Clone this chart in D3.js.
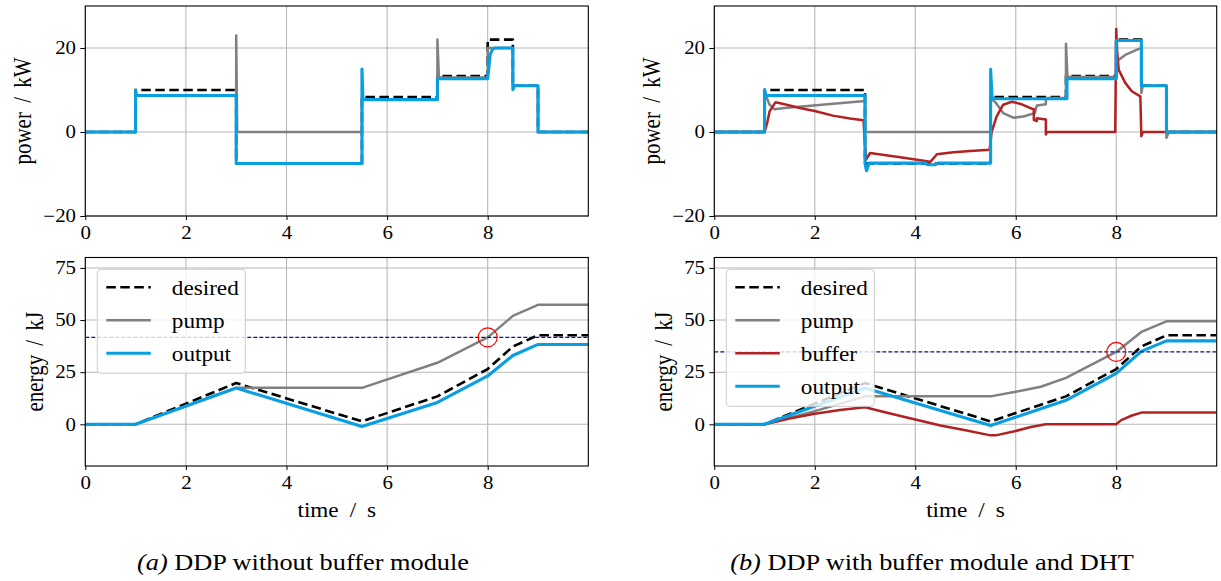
<!DOCTYPE html>
<html><head><meta charset="utf-8">
<script src="https://cdn.jsdelivr.net/npm/d3@7"></script>
<style>
body{margin:0;background:#fff}
svg{display:block}
text{font-family:"Liberation Serif","Times New Roman",serif;fill:#000}
</style>
</head><body>
<svg id="c" width="1221" height="581"></svg>
<script>
// ---------------- data ----------------
const timeTicks = [0, 2, 4, 6, 8];
const powerTicks = [-20, 0, 20];
const energyTicks = [0, 25, 50, 75];
const seriesNames = ["desired", "pump", "buffer", "output"];
const captionA = "DDP without buffer module";
const captionB = "DDP with buffer module and DHT";

// power [time s, kW]
const desiredPower = [[0,0],[1,0],[1,10],[3,10],[3,-7.5],[5.5,-7.5],[5.5,8.3],[7,8.3],[7,13.3],[8,13.3],[8,22],[8.5,22],[8.5,11],[9,11],[9,0],[10,0]];
const pumpPowerA = [[0,0],[1,0],[1,8.7],[3,8.7],[3,23],[3.02,0],[5.5,0],[5.5,7.8],[7,7.8],[7,22],[7.03,13],[8,13],[8,20],[8.5,20],[8.5,11],[9,11],[9,0],[10,0]];
const outputPowerA = [[0,0],[1,0],[1,10],[1.02,8.7],[3,8.7],[3,-7.5],[5.5,-7.5],[5.5,15],[5.52,7.7],[7,7.7],[7,12.7],[8,12.7],[8.02,15],[8.05,18.5],[8.1,19.8],[8.15,20],[8.5,20],[8.5,10.1],[8.53,11],[9,11],[9,0],[10,0]];
const pumpPowerB = [[0,0],[1,0],[1,9.5],[1.1,6.5],[1.2,5.4],[1.4,5.7],[3,7.4],[3,0],[5.5,0],[5.5,8],[5.6,7],[5.75,4.5],[5.95,3.4],[6.15,3.7],[6.38,4.5],[6.42,6.3],[6.6,6.6],[6.6,8.1],[7,8.1],[7,21],[7.03,13.1],[8,13.1],[8.03,17],[8.2,18.5],[8.45,19.8],[8.5,20],[8.5,9.3],[8.53,11],[9,11],[9,-1.4],[9.05,0],[10,0]];
const bufferPowerB = [[0,0],[1,0],[1.05,2],[1.1,4.9],[1.22,7.1],[1.4,6.6],[1.7,5.7],[2,5],[2.36,3.9],[2.7,3.2],[2.97,2.8],[3.02,-6.6],[3.1,-5],[3.7,-6],[4.3,-7.1],[4.38,-6],[4.43,-5.3],[4.76,-4.8],[5.1,-4.5],[5.48,-4.2],[5.52,0],[5.62,3.7],[5.75,6.5],[5.92,7.2],[6.12,6.6],[6.33,5.5],[6.36,5.5],[6.36,2.9],[6.42,2.6],[6.42,3.3],[6.6,3.0],[6.6,-0.6],[6.62,0],[7.98,0],[8,24.5],[8.02,19],[8.05,14.8],[8.18,11.7],[8.31,9.7],[8.48,8.5],[8.5,-1],[8.53,0],[10,0]];
const outputPowerB = [[0,0],[1,0],[1,10.1],[1.03,8.7],[3,8.7],[3,-7.4],[3.03,-9.2],[3.08,-7.4],[4.2,-7.4],[4.25,-7.8],[4.4,-7.8],[4.45,-7.4],[5.5,-7.4],[5.5,14.9],[5.53,7.9],[7.02,7.9],[7.02,12.7],[8,12.7],[8,21.8],[8.5,21.8],[8.5,11],[9,11],[9,0],[10,0]];

// energy [time s, kJ]
const desiredEnergy = [[0,0],[1,0],[3,19.8],[5.5,1.4],[7,13.4],[8,26.5],[8.5,37.3],[9,42.7],[10,42.7]];
const pumpEnergyA = [[0,0],[1,0],[3,17.5],[5.5,17.5],[7,29.5],[8,41.7],[8.5,52],[9,57.3],[10,57.3]];
const outputEnergyA = [[0,0],[1,0],[3,17.4],[5.5,-1.1],[7,10.5],[8,23.2],[8.5,33],[9,38.3],[10,38.3]];
const pumpEnergyB = [[0,0],[1,0],[1.5,3.2],[2,6.3],[2.5,9.8],[3,13.4],[5.5,13.4],[6,15.6],[6.5,18],[7,22.3],[8,34.7],[8.5,44.3],[9,49.4],[10,49.4]];
const bufferEnergyB = [[0,0],[1,0],[1.5,2.8],[2,5.1],[2.5,6.9],[3,8.2],[3.5,5.2],[4,2.3],[4.5,-0.6],[5,-2.9],[5.5,-5.3],[5.6,-5.3],[6,-3.2],[6.3,-1.3],[6.6,0],[8,0],[8.1,2],[8.3,4.1],[8.5,5.6],[10,5.6]];
const outputEnergyB = [[0,0],[1,0],[3,17.4],[5.5,-0.6],[7,11.5],[8,24.4],[8.5,35],[9,40],[10,40]];
const limitEnergyA = 41.7;   // dashed navy level
const limitEnergyB = 34.7;
const markTime = 8;

// ---------------- styles ----------------
const SX = 1.16; // horizontal text stretch of the reference
const C = {desired:"#000000", pump:"#808080", buffer:"#b22222", output:"#079fe2"};
const W = {desired:2.6, pump:2.5, buffer:2.5, output:3.1};
const DASH = "9.5,4.5";

const svg = d3.select("#c");
const defs = svg.append("defs");
const cols = [{x0:85.3, x1:588.3}, {x0:714.3, x1:1216.7}];
const rows = [{y0:6, y1:216}, {y0:257.5, y1:466}];
let clipN = 0;
const fmt = d => d < 0 ? "\u2212" + Math.abs(d) : String(d);

function txt(x, y, s, size, anchor, rot, dy) {
  const g = svg.append("g").attr("transform", `translate(${x},${y}) scale(${SX},1)` + (rot ? " rotate(-90)" : ""));
  const t = g.append("text").attr("font-size", size).attr("text-anchor", anchor || "start");
  if (dy) t.attr("dy", dy);
  if (s !== null) t.text(s);
  return t;
}

function panel(col, row, ydom, yticks, series, opts) {
  const x = d3.scaleLinear().domain([0, 10]).range([col.x0, col.x1]);
  const y = d3.scaleLinear().domain(ydom).range([row.y1, row.y0]);
  const id = "clip" + (clipN++);
  defs.append("clipPath").attr("id", id).append("rect")
    .attr("x", col.x0).attr("y", row.y0).attr("width", col.x1 - col.x0).attr("height", row.y1 - row.y0);
  const g = svg.append("g");
  // grid
  g.append("g").selectAll("line").data(timeTicks).join("line")
    .attr("x1", d => x(d)).attr("x2", d => x(d)).attr("y1", row.y0).attr("y2", row.y1)
    .attr("stroke", "#b8b8b8").attr("stroke-width", 1.1);
  g.append("g").selectAll("line").data(yticks).join("line")
    .attr("y1", d => y(d)).attr("y2", d => y(d)).attr("x1", col.x0).attr("x2", col.x1)
    .attr("stroke", "#b8b8b8").attr("stroke-width", 1.1);
  // series
  const line = d3.line().x(d => x(d[0])).y(d => y(d[1]));
  const lg = g.append("g").attr("clip-path", `url(#${id})`);
  series.forEach(s => {
    lg.append("path").attr("d", line(s.data)).attr("fill", "none")
      .attr("stroke", C[s.name]).attr("stroke-width", W[s.name])
      .attr("stroke-dasharray", s.name === "desired" ? DASH : null)
      .attr("stroke-linejoin", "round");
  });
  if (opts.limit !== undefined) {
    lg.append("line").attr("x1", col.x0).attr("x2", col.x1).attr("y1", y(opts.limit)).attr("y2", y(opts.limit))
      .attr("stroke", "#10108a").attr("stroke-width", 1.3).attr("stroke-dasharray", "4,2");
    lg.append("circle").attr("cx", x(markTime)).attr("cy", y(opts.limit)).attr("r", 9.5)
      .attr("fill", "none").attr("stroke", "#ff0000").attr("stroke-width", 1.2);
  }
  // axes
  const xa = g.append("g").attr("transform", `translate(0,${row.y1})`)
    .call(d3.axisBottom(x).tickValues(timeTicks).tickSize(4).tickPadding(6).tickFormat(d3.format("d")));
  const ya = g.append("g").attr("transform", `translate(${col.x0},0)`)
    .call(d3.axisLeft(y).tickValues(yticks).tickSize(5).tickPadding(3).tickFormat(fmt));
  [xa, ya].forEach(a => {
    a.attr("font-family", null).attr("font-size", null);
    a.select(".domain").remove();
    a.selectAll(".tick line").attr("stroke", "#000").attr("stroke-width", 1);
    a.selectAll(".tick text").attr("font-size", 18).attr("fill", "#000").attr("transform", `scale(${SX},1)`);
  });
  // legend
  if (opts.legend) {
    const lx = col.x0 + 12, ly = row.y0 + 11.8, lw = 148, step = 33;
    const lgd = g.append("g");
    lgd.append("rect").attr("x", lx).attr("y", ly).attr("width", lw).attr("height", series.length * step + 5)
      .attr("rx", 3.5).attr("fill", "#fff").attr("fill-opacity", 0.8).attr("stroke", "#cccccc").attr("stroke-width", 1);
    series.forEach((s, i) => {
      const cy = ly + 18 + i * step;
      lgd.append("line").attr("x1", lx + 9).attr("x2", lx + 53.5).attr("y1", cy).attr("y2", cy)
        .attr("stroke", C[s.name]).attr("stroke-width", W[s.name])
        .attr("stroke-dasharray", s.name === "desired" ? DASH : null);
      txt(lx + 74.5, cy + 7.7, s.name, 20, "start");
    });
  }
  // frame
  g.append("rect").attr("x", col.x0).attr("y", row.y0).attr("width", col.x1 - col.x0).attr("height", row.y1 - row.y0)
    .attr("fill", "none").attr("stroke", "#000").attr("stroke-width", 1.1);
  // axis labels
  txt(col.x0 - opts.ylabOff, (row.y0 + row.y1) / 2, opts.ylabel, 21, "middle", true, "0.25em").attr("word-spacing", "4px");
  if (opts.xlabel) txt((col.x0 + col.x1) / 2, 517, "time / s", 20, "middle").attr("word-spacing", "4.5px");
}

const S = (name, data) => ({name, data});

panel(cols[0], rows[0], [-20, 30], powerTicks,
  [S("desired", desiredPower), S("pump", pumpPowerA), S("output", outputPowerA)],
  {ylabel:"power / kW", ylabOff:60.3});
panel(cols[1], rows[0], [-20, 30], powerTicks,
  [S("desired", desiredPower), S("pump", pumpPowerB), S("buffer", bufferPowerB), S("output", outputPowerB)],
  {ylabel:"power / kW", ylabOff:60.3});
panel(cols[0], rows[1], [-20, 80], energyTicks,
  [S("desired", desiredEnergy), S("pump", pumpEnergyA), S("output", outputEnergyA)],
  {ylabel:"energy / kJ", ylabOff:48.5, xlabel:true, legend:true, limit:limitEnergyA});
panel(cols[1], rows[1], [-20, 80], energyTicks,
  [S("desired", desiredEnergy), S("pump", pumpEnergyB), S("buffer", bufferEnergyB), S("output", outputEnergyB)],
  {ylabel:"energy / kJ", ylabOff:48.5, xlabel:true, legend:true, limit:limitEnergyB});

// captions
[[303, "(a)", captionA], [932, "(b)", captionB]].forEach(([cx, tag, cap]) => {
  const t = txt(cx, 570, null, 22.7, "middle");
  t.append("tspan").attr("font-style", "italic").text(tag);
  t.append("tspan").text(" " + cap);
});
</script>
</body></html>
